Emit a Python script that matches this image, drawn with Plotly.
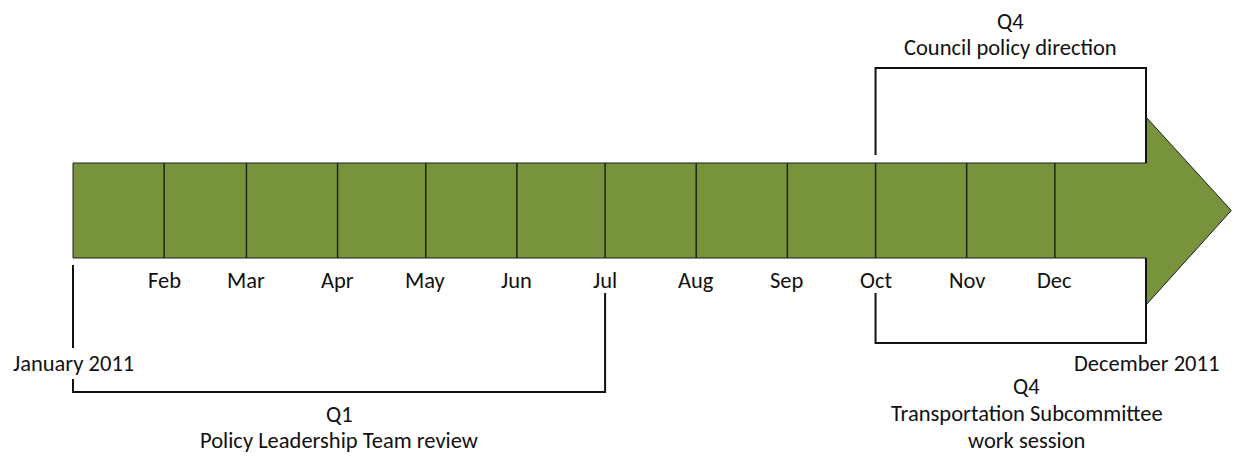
import plotly.graph_objects as go
import pandas as pd

# ---------------- data ----------------
month_labels = ["Jan", "Feb", "Mar", "Apr", "May", "Jun", "Jul", "Aug", "Sep", "Oct", "Nov", "Dec"]
month_starts = ["2011-01-01", "2011-02-01", "2011-03-01", "2011-04-01", "2011-05-01", "2011-06-01",
                "2011-07-01", "2011-08-01", "2011-09-01", "2011-10-01", "2011-11-01", "2011-12-01"]
timeline_start = "2011-01-01"
timeline_end = "2012-01-01"
arrow_tip = "2012-01-30"
start_label = "January 2011"
end_label = "December 2011"

bracket_labels = [["Q1", "Policy Leadership Team review"],
                  ["Q4", "Council policy direction"],
                  ["Q4", "Transportation Subcommittee", "work session"]]
bracket_starts = ["2011-01-01", "2011-10-01", "2011-10-01"]
bracket_ends = ["2011-07-01", "2012-01-01", "2012-01-01"]
bracket_sides = ["below", "above", "below"]

# ---------------- layout constants ----------------
W, H = 1234, 456
X0_PX, X1_PX = 73, 1146           # pixel of timeline start / end
BAR_TOP, BAR_BOT = 163, 258
HEAD_TOP, HEAD_BOT, MID = 117, 305, 210.5
GREEN = "#77933C"
FONT = dict(family="Carlito, Lato, sans-serif", size=22.5, color="#111111")

t0 = pd.Timestamp(timeline_start)
t1 = pd.Timestamp(timeline_end)
px_per_day = (X1_PX - X0_PX) / ((t1 - t0).days)
xr0 = t0 - pd.Timedelta(days=X0_PX / px_per_day)
xr1 = t1 + pd.Timedelta(days=(W - X1_PX) / px_per_day)

fig = go.Figure()

# arrow body + head
ax = [timeline_start, timeline_end, timeline_end, arrow_tip, timeline_end, timeline_end, timeline_start, timeline_start]
ay = [BAR_TOP, BAR_TOP, HEAD_TOP, MID, HEAD_BOT, BAR_BOT, BAR_BOT, BAR_TOP]
fig.add_trace(go.Scatter(x=ax, y=ay, mode="lines", fill="toself", fillcolor=GREEN,
                         line=dict(color="#1c1c1c", width=1), hoverinfo="skip"))

# month dividers
dx, dy = [], []
for d in month_starts[1:]:
    dx += [d, d, None]
    dy += [BAR_TOP, BAR_BOT, None]
fig.add_trace(go.Scatter(x=dx, y=dy, mode="lines", line=dict(color="#1d260f", width=1.5),
                         hoverinfo="skip"))

# month labels
for lab, d in zip(month_labels[1:], month_starts[1:]):
    fig.add_annotation(x=d, y=280, text=lab, showarrow=False, font=FONT,
                       xanchor="center", yanchor="middle")

# brackets
bx, by = [], []
for s, e, side in zip(bracket_starts, bracket_ends, bracket_sides):
    if side == "above":
        top = 68
        bx += [s, s, e, e, None]
        by += [155, top, top, BAR_TOP, None]
    else:
        if s == timeline_start:
            base = 392
            # left leg interrupted by the start-date label
            bx += [s, s, None, s, s, e, e, None]
            by += [265, 348, None, 379, base, base, 293, None]
        else:
            base = 343
            bx += [s, s, e, e, None]
            by += [293, base, base, BAR_BOT, None]
fig.add_trace(go.Scatter(x=bx, y=by, mode="lines", line=dict(color="#111111", width=2),
                         hoverinfo="skip"))

# bracket labels (one annotation per text line)
label_lines_y = {0: [414, 440], 1: [21, 47], 2: [386, 413, 440]}
label_xshift = {0: 0, 1: 0, 2: 16}
for i, (lines, s, e) in enumerate(zip(bracket_labels, bracket_starts, bracket_ends)):
    mid = pd.Timestamp(s) + (pd.Timestamp(e) - pd.Timestamp(s)) / 2
    for txt, yv in zip(lines, label_lines_y[i]):
        fig.add_annotation(x=mid.isoformat(), y=yv, text=txt, showarrow=False, font=FONT,
                           xanchor="center", yanchor="middle", xshift=label_xshift[i])

# start / end labels
fig.add_annotation(x=timeline_start, y=363, text=start_label, showarrow=False, font=FONT,
                   xanchor="center", yanchor="middle")
fig.add_annotation(x=timeline_end, y=363, text=end_label, showarrow=False, font=FONT,
                   xanchor="center", yanchor="middle")

fig.update_layout(
    width=W, height=H, margin=dict(l=0, r=0, t=0, b=0),
    paper_bgcolor="white", plot_bgcolor="white", showlegend=False,
    xaxis=dict(type="date", range=[xr0.isoformat(), xr1.isoformat()], visible=False, fixedrange=True),
    yaxis=dict(range=[H, 0], visible=False, fixedrange=True),
)

fig.write_html("out.html", config={"displayModeBar": False},
               post_script="document.body.style.margin='0px';")
